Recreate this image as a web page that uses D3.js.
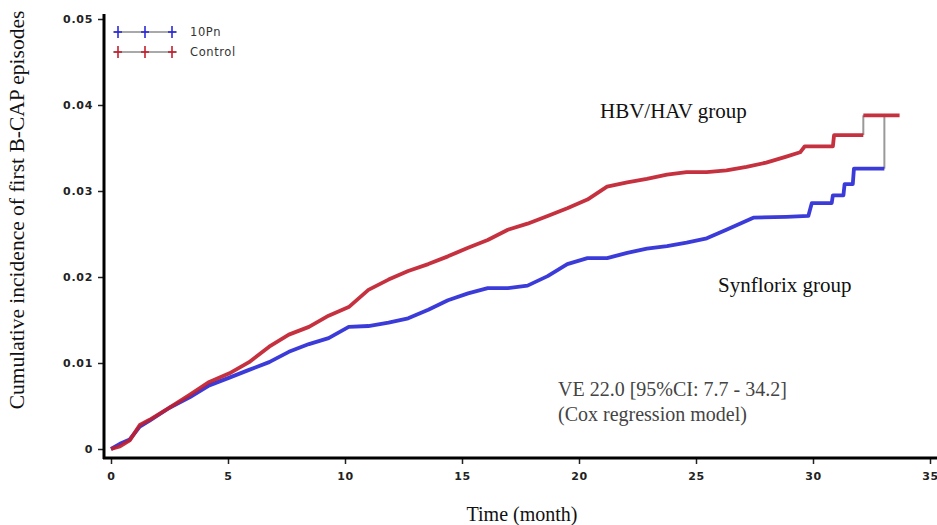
<!DOCTYPE html>
<html><head><meta charset="utf-8">
<script src="https://cdn.jsdelivr.net/npm/d3@7"></script>
<style>body{margin:0;background:#fff}svg{display:block}</style>
</head><body><svg id="c" width="937" height="525"></svg>
<script>
const xTicks = [0,5,10,15,20,25,30,35];
const yTicks = [0,0.01,0.02,0.03,0.04,0.05];
const yTickLabels = ["0","0.01","0.02","0.03","0.04","0.05"];
const seriesNames = ["10Pn","Control"];
// Synflorix (10Pn) cumulative incidence: [month, value]
const pn10 = [[0,0],[0.38,0.0006],[0.8,0.0011],[1.23,0.0026],[1.65,0.0033],[2.5,0.0048],[3.36,0.0060],[4.2,0.0074],[5.06,0.0083],[5.9,0.0092],[6.76,0.0101],[7.6,0.0113],[8.46,0.0122],[9.3,0.0129],[10.16,0.0142],[11,0.0143],[11.86,0.0147],[12.7,0.0152],[13.56,0.0162],[14.4,0.0173],[15.26,0.0181],[16.1,0.0187],[16.96,0.0187],[17.8,0.0190],[18.66,0.0201],[19.5,0.0215],[20.36,0.0222],[21.2,0.0222],[22.06,0.0228],[22.9,0.0233],[23.76,0.0236],[24.6,0.0240],[25.46,0.0245],[26.3,0.0255],[27.45,0.0269],[28.86,0.0270],[29.8,0.0271],[29.95,0.0286],[30.8,0.0286],[30.85,0.0295],[31.3,0.0295],[31.35,0.0308],[31.7,0.0308],[31.75,0.0326],[33.05,0.0326],[33.05,0.0386]];
// HBV/HAV (Control) cumulative incidence
const control = [[0,0],[0.38,0.0003],[0.8,0.0010],[1.23,0.0028],[1.65,0.0034],[2.5,0.0048],[3.36,0.0063],[4.2,0.0078],[5.06,0.0088],[5.9,0.0101],[6.76,0.0119],[7.6,0.0133],[8.46,0.0142],[9.3,0.0155],[10.16,0.0165],[11,0.0185],[11.86,0.0197],[12.7,0.0207],[13.56,0.0215],[14.4,0.0224],[15.26,0.0234],[16.1,0.0243],[16.96,0.0255],[17.8,0.0262],[18.66,0.0271],[19.5,0.0280],[20.36,0.0290],[21.2,0.0305],[22.06,0.0310],[22.9,0.0314],[23.76,0.0319],[24.6,0.0322],[25.46,0.0322],[26.3,0.0324],[27.16,0.0328],[28,0.0333],[28.86,0.0340],[29.45,0.0345],[29.65,0.0352],[30.85,0.0352],[30.9,0.0365],[32.15,0.0365],[32.15,0.0388],[33.7,0.0388]];
const colors = ["#2a2ad6","#c0202e"];

const svg = d3.select("#c");
const x = d3.scaleLinear().domain([0,35]).range([111,930]);
const y = d3.scaleLinear().domain([0,0.05]).range([449,19]);

// axes
const ax = svg.append("g").attr("transform","translate(0,458)")
  .call(d3.axisBottom(x).tickValues(xTicks).tickSize(6).tickPadding(8).tickFormat(d3.format("d")));
const ay = svg.append("g").attr("transform","translate(104,0)")
  .call(d3.axisLeft(y).tickValues(yTicks).tickSize(6).tickPadding(5).tickFormat((d,i)=>yTickLabels[i]));
[ax,ay].forEach(g=>{
  g.select(".domain").remove();
  g.selectAll(".tick line").attr("stroke","#222").attr("stroke-width",1.5);
  g.selectAll(".tick text").attr("font-family","DejaVu Sans, Verdana").attr("font-size",11)
   .attr("fill","#222").attr("letter-spacing",0.7).attr("font-weight","bold");
});
svg.append("line").attr("x1",104).attr("x2",104).attr("y1",14).attr("y2",459).attr("stroke","#000").attr("stroke-width",3);
svg.append("line").attr("x1",103).attr("x2",937).attr("y1",458).attr("y2",458).attr("stroke","#000").attr("stroke-width",3);

// curves: split at large vertical jumps, drawn grey
const line = d3.line().x(d=>x(d[0])).y(d=>y(d[1]));
[pn10, control].forEach((s,i)=>{
  let segs=[[s[0]]];
  const jumps=[];
  for(let k=1;k<s.length;k++){
    if(s[k][0]===s[k-1][0] && s[k][1]-s[k-1][1]>0.0015){ jumps.push([s[k-1],s[k]]); segs.push([s[k]]); }
    else segs[segs.length-1].push(s[k]);
  }
  jumps.forEach(j=>svg.append("path").attr("d",line(j)).attr("stroke","#999").attr("stroke-width",2).attr("fill","none"));
  segs.forEach(sg=>{ if(sg.length>1) svg.append("path").attr("d",line(sg)).attr("stroke",colors[i])
     .attr("stroke-width",3.8).attr("fill","none").attr("stroke-linejoin","round").attr("opacity",0.92); });
});

// legend
seriesNames.forEach((n,i)=>{
  const yy=32+i*20;
  svg.append("line").attr("x1",113).attr("x2",177).attr("y1",yy).attr("y2",yy).attr("stroke","#555").attr("stroke-width",1.2);
  [118,145,172].forEach(px=>{
    svg.append("line").attr("x1",px).attr("x2",px).attr("y1",yy-6).attr("y2",yy+6).attr("stroke",colors[i]).attr("stroke-width",1.6);
    svg.append("line").attr("x1",px-4).attr("x2",px+4).attr("y1",yy).attr("y2",yy).attr("stroke",colors[i]).attr("stroke-width",1.6);
  });
  svg.append("text").attr("x",190).attr("y",yy+4).text(n).attr("font-family","DejaVu Sans").attr("font-size",11.5)
    .attr("letter-spacing",0.6).attr("fill","#333");
});

// texts
const serif="Liberation Serif, Times New Roman, serif";
svg.append("text").attr("x",600).attr("y",118).text("HBV/HAV group").attr("font-family",serif).attr("font-size",21).attr("fill","#111");
svg.append("text").attr("x",718).attr("y",292).text("Synflorix group").attr("font-family",serif).attr("font-size",21).attr("fill","#111");
svg.append("text").attr("x",558).attr("y",396).text("VE 22.0 [95%CI: 7.7 - 34.2]").attr("font-family",serif).attr("font-size",20).attr("fill","#444");
svg.append("text").attr("x",558).attr("y",421).text("(Cox regression model)").attr("font-family",serif).attr("font-size",20).attr("fill","#444");
svg.append("text").attr("x",522).attr("y",521).attr("text-anchor","middle").text("Time (month)").attr("font-family",serif).attr("font-size",20).attr("fill","#111");
svg.append("text").attr("transform","translate(24,210) rotate(-90)").attr("text-anchor","middle")
  .text("Cumulative incidence of first B-CAP episodes").attr("font-family",serif).attr("font-size",21.5).attr("fill","#111");
</script></body></html>
